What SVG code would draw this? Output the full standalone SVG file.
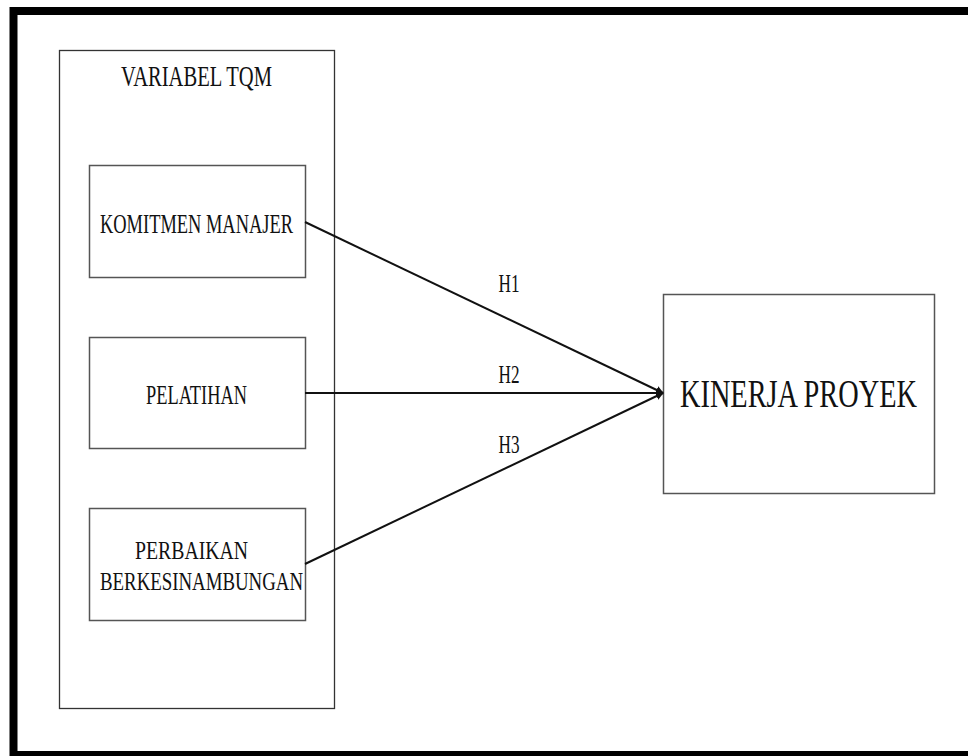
<svg xmlns="http://www.w3.org/2000/svg" width="968" height="756" viewBox="0 0 968 756">
<style>
.box{fill:#fff;stroke:#333;stroke-width:1.3}
.ibox{fill:#fff;stroke:#555;stroke-width:1.5}
.t{font-family:"Liberation Serif","Times New Roman",serif;fill:#111;text-anchor:middle}
.c{stroke:#111;stroke-width:2;fill:none;marker-end:url(#ah)}
</style>
<defs>
<marker id="ah" viewBox="0 0 10 10" refX="9" refY="5" markerWidth="4" markerHeight="4" orient="auto" markerUnits="strokeWidth">
<path d="M0,0 L10,5 L0,10 z" fill="#111"/>
</marker>
</defs>
<rect x="0" y="0" width="968" height="756" fill="#fff"/>
<rect x="13.5" y="11" width="1000" height="744" fill="none" stroke="#000" stroke-width="8"/>
<g id="tqm">
<rect class="box" x="59.5" y="50.5" width="275" height="658"/>
<text class="t" x="196.5" y="86" font-size="30" textLength="151" lengthAdjust="spacingAndGlyphs">VARIABEL TQM</text>
</g>
<g id="komitmen">
<rect class="ibox" x="89.5" y="165.5" width="216" height="112"/>
<text class="t" x="196.5" y="233" font-size="27" textLength="193" lengthAdjust="spacingAndGlyphs">KOMITMEN MANAJER</text>
</g>
<g id="pelatihan">
<rect class="ibox" x="89.5" y="337.5" width="216" height="111"/>
<text class="t" x="196.5" y="404" font-size="27" textLength="101" lengthAdjust="spacingAndGlyphs">PELATIHAN</text>
</g>
<g id="perbaikan">
<rect class="ibox" x="89.5" y="508.5" width="216" height="112"/>
<text class="t" x="191.5" y="559" font-size="26" textLength="113" lengthAdjust="spacingAndGlyphs">PERBAIKAN</text>
<text class="t" x="201.5" y="590" font-size="26" textLength="203" lengthAdjust="spacingAndGlyphs">BERKESINAMBUNGAN</text>
</g>
<g id="kinerja">
<rect class="ibox" x="663.5" y="294.5" width="271" height="199"/>
<text class="t" x="798.5" y="407" font-size="39" textLength="237" lengthAdjust="spacingAndGlyphs">KINERJA PROYEK</text>
</g>
<g id="connectors">
<line class="c" x1="305" y1="222" x2="663" y2="393"/>
<line class="c" x1="305" y1="393" x2="663" y2="393"/>
<line class="c" x1="305" y1="564" x2="663" y2="393"/>
<text class="t" x="509" y="292" font-size="25" textLength="21" lengthAdjust="spacingAndGlyphs">H1</text>
<text class="t" x="509" y="383" font-size="25" textLength="21" lengthAdjust="spacingAndGlyphs">H2</text>
<text class="t" x="509" y="453" font-size="25" textLength="21" lengthAdjust="spacingAndGlyphs">H3</text>
</g>
</svg>
